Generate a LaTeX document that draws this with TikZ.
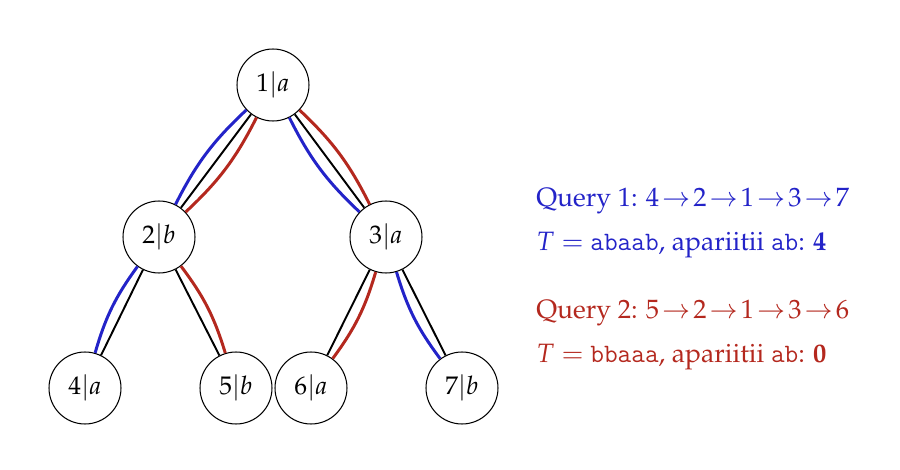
\documentclass[tikz,border=0pt]{standalone}
\usepackage[T1]{fontenc}
\usepackage{mathpazo}
\newcommand\ttx[1]{{\fontencoding{TU}\fontfamily{lmtt}\selectfont #1}}
\definecolor{qblue}{RGB}{35,35,200}
\definecolor{qred}{RGB}{180,40,30}
\tikzset{
  tnode/.style={circle,draw=black,line width=0.6pt,fill=white,minimum size=1.44cm,inner sep=0pt,font=\fontsize{14.5}{17}\selectfont},
  treeedge/.style={draw=black,line width=1.1pt},
  bpath/.style={draw=qblue,line width=1.7pt},
  rpath/.style={draw=qred,line width=1.7pt},
  qtext/.style={anchor=base west,inner sep=0pt,font=\fontsize{15.1}{18}\selectfont}
}
\begin{document}
\begin{tikzpicture}[x=0.02cm,y=-0.02cm]
\useasboundingbox (0,0) rectangle (900,470);
\node[tnode] (n1) at (273,85) {$1|a$};
\node[tnode] (n2) at (159,237) {$2|b$};
\node[tnode] (n3) at (386,237) {$3|a$};
\node[tnode] (n4) at (85,388) {$4|a$};
\node[tnode] (n5) at (236,388) {$5|b$};
\node[tnode] (n6) at (311,388) {$6|a$};
\node[tnode] (n7) at (462,388) {$7|b$};
% tree edges
\draw[treeedge] (n1) -- (n2);
\draw[treeedge] (n1) -- (n3);
\draw[treeedge] (n2) -- (n4);
\draw[treeedge] (n2) -- (n5);
\draw[treeedge] (n3) -- (n6);
\draw[treeedge] (n3) -- (n7);
% query 1 path: 4-2-1-3-7
\draw[bpath] (n4) to[bend left=10] (n2);
\draw[bpath] (n2) to[bend left=10] (n1);
\draw[bpath] (n1) to[bend right=10] (n3);
\draw[bpath] (n3) to[bend right=10] (n7);
% query 2 path: 5-2-1-3-6
\draw[rpath] (n5) to[bend right=10] (n2);
\draw[rpath] (n2) to[bend right=10] (n1);
\draw[rpath] (n1) to[bend left=10] (n3);
\draw[rpath] (n3) to[bend left=10] (n6);
% texts
\node[qtext,text=qblue] (q1) at (536,206) {Query 1: $4\!\to\!2\!\to\!1\!\to\!3\!\to\!7$};
\node[qtext,text=qblue] (t1) at (536,250) {$T=$ \ttx{abaab}, apariitii \ttx{ab}: \textbf{4}};
\node[qtext,text=qred] (q2) at (536,318) {Query 2: $5\!\to\!2\!\to\!1\!\to\!3\!\to\!6$};
\node[qtext,text=qred] (t2) at (536,362) {$T=$ \ttx{bbaaa}, apariitii \ttx{ab}: \textbf{0}};
\end{tikzpicture}
\end{document}
